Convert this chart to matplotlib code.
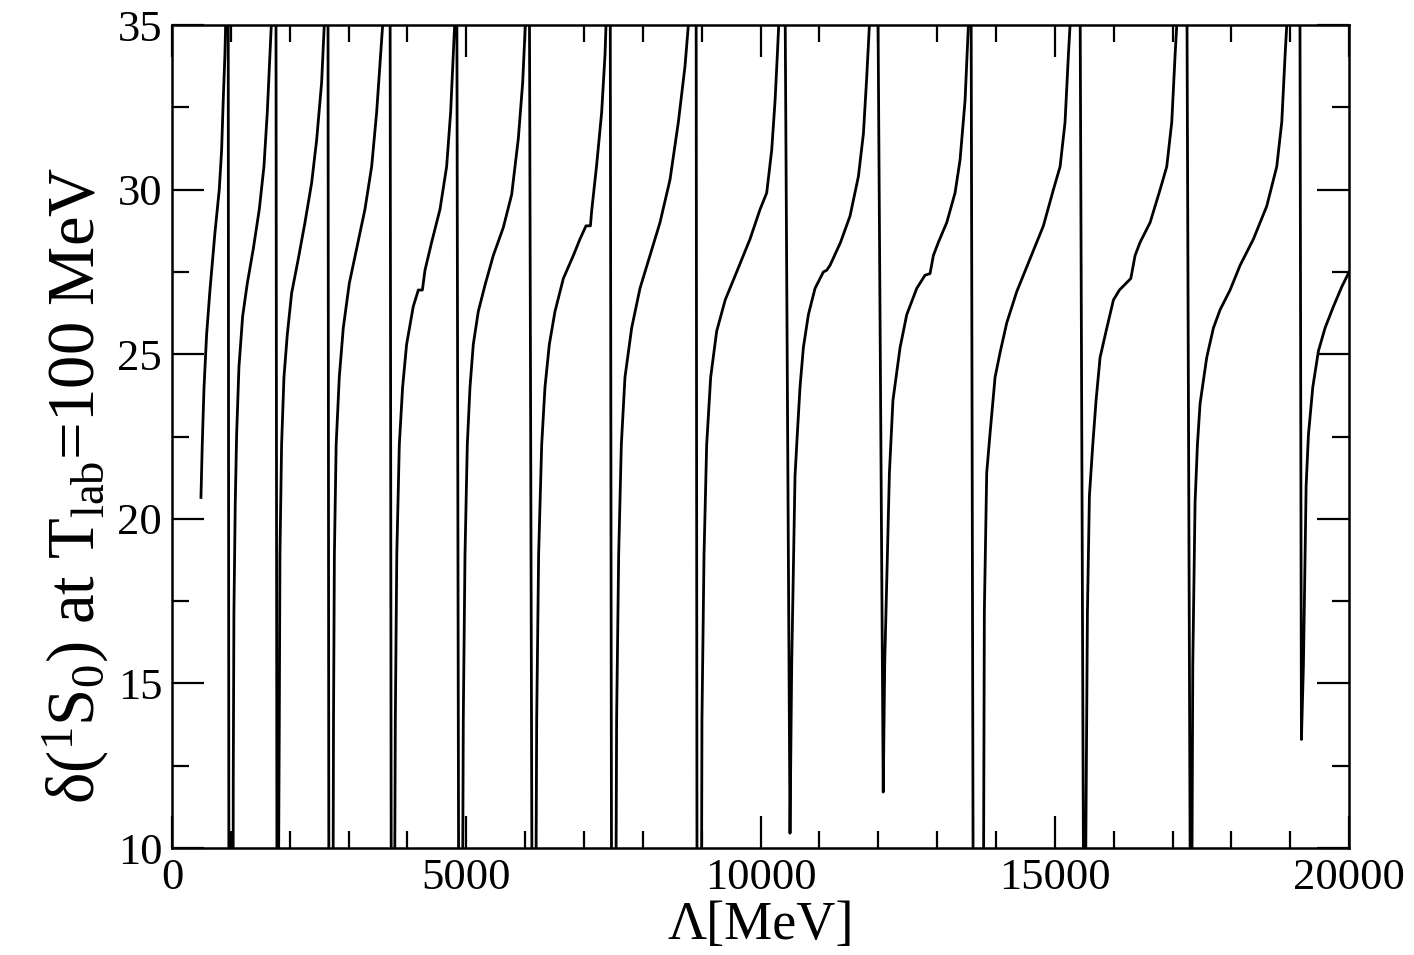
import matplotlib
matplotlib.use('Agg')
import matplotlib.pyplot as plt
from matplotlib.ticker import MultipleLocator

plt.rcParams['font.family'] = ['Liberation Serif', 'DejaVu Serif']
plt.rcParams['mathtext.fontset'] = 'custom'
plt.rcParams['mathtext.rm'] = 'Liberation Serif'
plt.rcParams['mathtext.it'] = 'Liberation Serif:italic'

# phase shift vs cutoff.
# values of 38 / 7 are off-scale points (the phase wraps round there)
lam = [
    493, 515, 544, 589, 646, 731, 804, 844, 872, 900, 912, 930, 955, 968,
    1038, 1042, 1053, 1076, 1099, 1138, 1201, 1280, 1382, 1484, 1563, 1620, 1665, 1688, 1710, 1766, 1785,
    1805, 1824, 1835, 1863, 1903, 1960, 2033, 2147, 2260, 2373, 2458, 2543, 2588, 2610, 2650, 2667,
    2735, 2745, 2760, 2790, 2843, 2911, 3013, 3138, 3279, 3393, 3478, 3546, 3580, 3600, 3705, 3727,
    3780, 3795, 3820, 3863, 3919, 3987, 4100, 4186, 4255, 4299, 4412, 4554, 4667, 4735, 4780, 4803, 4825, 4838, 4873,
    4935, 4950, 4979, 5018, 5064, 5120, 5205, 5319, 5460, 5630, 5772, 5885, 5959, 6004, 6030, 6070, 6120,
    6180, 6197, 6230, 6282, 6338, 6412, 6508, 6650, 6820, 6933, 7035, 7110, 7131, 7216, 7301, 7358, 7375, 7400, 7445, 7470,
    7540, 7555, 7590, 7635, 7697, 7811, 7952, 8122, 8292, 8462, 8604, 8717, 8774, 8800, 8905, 8922,
    8995, 9005, 9040, 9085, 9153, 9255, 9400, 9595, 9822, 9992, 10105, 10190, 10247, 10286, 10309, 10330, 10410, 10501,
    10530, 10586, 10626, 10671, 10728, 10813, 10926, 11068, 11124, 11181, 11360, 11521, 11663, 11748, 11804, 11850, 11870, 11986, 12085,
    12110, 12190, 12250, 12371, 12484, 12654, 12795, 12880, 12937, 13022, 13164, 13305, 13390, 13475, 13532, 13550, 13575, 13615,
    13785, 13795, 13803, 13843, 13900, 13985, 14070, 14183, 14353, 14580, 14806, 14976, 15090, 15174, 15231, 15259, 15280, 15425, 15492,
    15515, 15554, 15588, 15645, 15701, 15769, 15871, 15996, 16098, 16291, 16364, 16449, 16619, 16789, 16902, 16987, 17044, 17072, 17090, 17240, 17305,
    17325, 17344, 17383, 17423, 17468, 17581, 17695, 17808, 17978, 18148, 18375, 18601, 18771, 18856, 18913, 18941, 18960, 19162, 19190,
    19224, 19270, 19309, 19383, 19479, 19592, 19734, 19876, 20000,
]
delta = [
    20.65, 22.25, 23.95, 25.6, 26.95, 28.7, 30.0, 31.2, 32.75, 34.1, 35.0, 38, 38, 7,
    7, 12.2, 17.15, 20.5, 22.55, 24.6, 26.15, 27.15, 28.2, 29.4, 30.7, 32.35, 34.1, 35.0, 38, 38, 7,
    7, 13.85, 18.9, 22.25, 24.3, 25.6, 26.85, 27.9, 29.0, 30.2, 31.5, 33.25, 35.0, 38, 38, 7,
    7, 13.85, 18.9, 22.25, 24.3, 25.8, 27.15, 28.2, 29.4, 30.7, 32.35, 34.1, 35.0, 38, 38, 7,
    7, 13.85, 18.9, 22.25, 24.0, 25.3, 26.45, 26.95, 26.95, 27.55, 28.4, 29.4, 30.7, 32.35, 34.1, 35.0, 38, 38, 7,
    7, 13.9, 18.9, 22.25, 24.0, 25.3, 26.3, 27.1, 28.0, 28.85, 29.85, 31.55, 33.25, 35.0, 38, 38, 7,
    7, 13.9, 18.9, 22.25, 24.0, 25.3, 26.3, 27.3, 28.0, 28.5, 28.9, 28.9, 29.35, 30.75, 32.35, 34.1, 35.0, 38, 38, 7,
    7, 13.9, 18.9, 22.25, 24.3, 25.8, 27.0, 28.0, 29.0, 30.3, 32.05, 33.75, 35.0, 38, 38, 7,
    7, 13.9, 18.9, 22.25, 24.3, 25.7, 26.65, 27.5, 28.5, 29.4, 29.9, 31.2, 32.7, 34.1, 35.0, 38, 38, 10.45,
    15.6, 21.3, 22.6, 24.0, 25.2, 26.2, 27.0, 27.5, 27.55, 27.7, 28.4, 29.2, 30.4, 31.7, 33.4, 35.0, 38, 38, 11.7,
    15.6, 21.4, 23.6, 25.2, 26.2, 27.0, 27.4, 27.45, 28.0, 28.4, 29.0, 29.9, 30.9, 32.7, 35.0, 38, 38, 7,
    7, 12.5, 17.2, 21.4, 22.6, 24.3, 25.05, 25.95, 26.9, 27.9, 28.9, 30.0, 30.7, 32.05, 34.1, 35.0, 38, 38, 7,
    7, 17.15, 20.7, 22.25, 23.6, 24.9, 25.7, 26.65, 26.95, 27.3, 28.0, 28.4, 29.0, 30.0, 30.7, 32.05, 34.1, 35.0, 38, 38, 7,
    7, 15.55, 20.5, 22.25, 23.5, 24.9, 25.8, 26.35, 26.95, 27.7, 28.5, 29.5, 30.7, 32.05, 34.1, 35.0, 38, 38, 13.3,
    15.55, 21.0, 22.55, 24.0, 25.1, 25.8, 26.45, 27.05, 27.5,
]

x_ticks = [0, 5000, 10000, 15000, 20000]
y_ticks = [10, 15, 20, 25, 30, 35]

fig = plt.figure(figsize=(14.14, 9.55), dpi=100)
ax = fig.add_axes([0.1216, 0.112, 0.8325, 0.8618])

ax.plot(lam, delta, color='black', lw=2.0)

ax.set_xlim(0, 20000)
ax.set_ylim(10, 35)
ax.set_xticks(x_ticks)
ax.set_yticks(y_ticks)
ax.xaxis.set_minor_locator(MultipleLocator(1000))
ax.yaxis.set_minor_locator(MultipleLocator(2.5))
ax.tick_params(which='both', direction='in', top=True, right=True, width=1.6,
               labelsize=32, pad=7)
ax.tick_params(which='major', length=23)
ax.tick_params(which='minor', length=12)
for sp in ax.spines.values():
    sp.set_linewidth(1.8)

ax.set_xlabel('Λ[MeV]', fontsize=39, labelpad=2)
ax.set_ylabel('δ($^{1}$S$_{0}$) at T$_{\\mathrm{lab}}$=100 MeV', fontsize=48)
ax.yaxis.set_label_coords(-0.052, 0.441)

fig.savefig('out.png', dpi=100)
